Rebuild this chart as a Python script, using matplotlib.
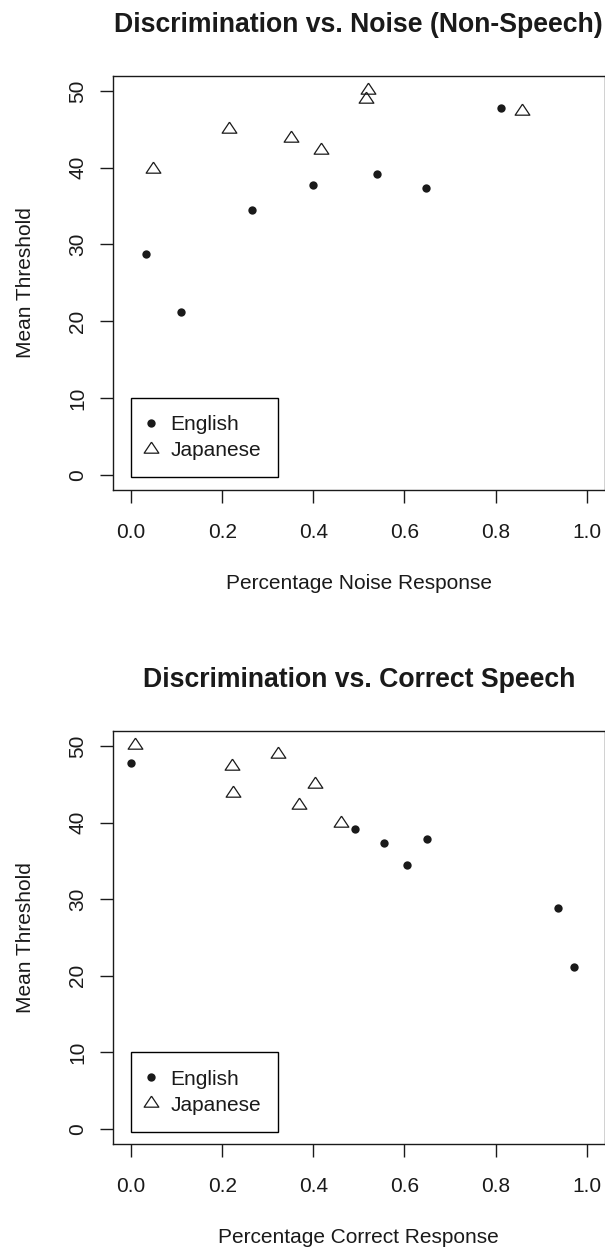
import matplotlib
matplotlib.use("Agg")
import matplotlib.pyplot as plt

# thresholds per listener group (same listeners in both panels)
english_threshold = [28.8, 21.2, 34.5, 37.8, 39.2, 37.3, 47.8]
english_noise = [0.032, 0.110, 0.266, 0.399, 0.539, 0.648, 0.813]
english_correct = [0.936, 0.973, 0.606, 0.650, 0.492, 0.555, 0.000]

japanese_threshold = [39.9, 45.0, 43.9, 42.3, 48.9, 50.1, 47.4]
japanese_noise = [0.048, 0.216, 0.351, 0.418, 0.516, 0.519, 0.859]
japanese_correct = [0.460, 0.404, 0.223, 0.369, 0.323, 0.009, 0.222]

x_ticks = [0.0, 0.2, 0.4, 0.6, 0.8, 1.0]
y_ticks = [0, 10, 20, 30, 40, 50]
group_labels = ["English", "Japanese"]

plt.rcParams["font.family"] = ["Liberation Sans", "DejaVu Sans"]
INK = "#1a1a1a"

# R style open triangle (pch 2), centred on its centroid
TRIANGLE = [(0, 1), (-1.0, -0.5), (1.0, -0.5), (0, 1)]


def draw_panel(ax, eng_x, jap_x, title, xlabel):
    eng, = ax.plot(eng_x, english_threshold, linestyle="none", marker="o",
                   markersize=6, color=INK, markeredgewidth=0)
    jap, = ax.plot(jap_x, japanese_threshold, linestyle="none", marker=TRIANGLE,
                   markersize=10.6, markerfacecolor="none", markeredgecolor=INK,
                   markeredgewidth=0.9)

    # R pads the data range by 4% on each side
    ax.set_xlim(-0.04, 1.04)
    ax.set_ylim(-2, 52)
    ax.set_xticks(x_ticks)
    ax.set_xticklabels(["%.1f" % t for t in x_ticks])
    ax.set_yticks(y_ticks)
    ax.set_yticklabels([str(t) for t in y_ticks], rotation=90, va="center")
    ax.tick_params(axis="x", direction="out", length=9.6, width=1.0, pad=14.2,
                   labelsize=15, colors=INK)
    ax.tick_params(axis="y", direction="out", length=9.6, width=1.0, pad=8.7,
                   labelsize=15, colors=INK)
    for sp in ax.spines.values():
        sp.set_linewidth(1.0)
        sp.set_color(INK)

    ax.set_title(title, fontsize=19.2, fontweight="bold", pad=31.5, color=INK)
    ax.set_xlabel(xlabel, fontsize=15, color=INK)
    ax.xaxis.set_label_coords(0.5, -0.2028)
    ax.set_ylabel("Mean Threshold", fontsize=15, color=INK)
    ax.yaxis.set_label_coords(-0.159, 0.5)

    leg = ax.legend([eng, jap], group_labels, loc="upper left",
                    bbox_to_anchor=(0, 10), bbox_transform=ax.transData,
                    borderaxespad=0, borderpad=0.82, handlelength=0.24,
                    handletextpad=0.84, labelspacing=0.34, fancybox=False,
                    framealpha=1, edgecolor="black", fontsize=15, numpoints=1)
    leg.get_frame().set_linewidth(1.0)
    for t in leg.get_texts():
        t.set_color(INK)


fig = plt.figure(figsize=(6.05, 12.47), dpi=100)
ax_top = fig.add_axes([0.18645, 0.60706, 0.8134, 0.33224])
ax_bot = fig.add_axes([0.18645, 0.08228, 0.8134, 0.33176])

draw_panel(ax_top, english_noise, japanese_noise,
           "Discrimination vs. Noise (Non-Speech)", "Percentage Noise Response")
draw_panel(ax_bot, english_correct, japanese_correct,
           "Discrimination vs. Correct Speech", "Percentage Correct Response")

fig.savefig("out.png", dpi=100)
